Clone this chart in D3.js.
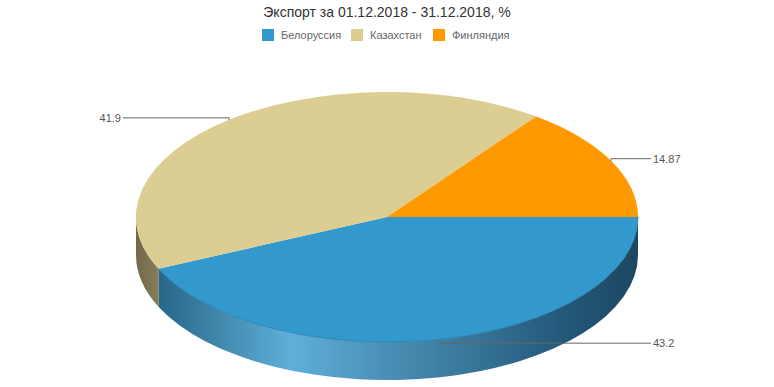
<!DOCTYPE html>
<html><head><meta charset="utf-8">
<script src="https://cdn.jsdelivr.net/npm/d3@7"></script>
<style>body{margin:0;background:#fff}svg{display:block}</style>
</head><body>
<svg id="c" width="774" height="387"></svg>
<script>
const categories = ["Белоруссия", "Казахстан", "Финляндия"];
const values = [43.2, 41.9, 14.87];
const labels = ["43.2", "41.9", "14.87"];
const colors = ["#3399cc", "#dccd92", "#ff9900"];
const title = "Экспорт за 01.12.2018 - 31.12.2018, %";

const svg = d3.select("#c");
const W = 774;
const cx = 387, cy = 217, rx = 251, ry = 125, depth = 38;

svg.append("text").attr("x", W/2).attr("y", 17).attr("text-anchor", "middle")
  .attr("font-family", "Liberation Sans, Arial, sans-serif").attr("font-size", 14).attr("fill", "#333").text(title);

// legend
const legendX = [262, 351, 433];
const lg = svg.append("g");
categories.forEach((c, i) => {
  lg.append("rect").attr("x", legendX[i]).attr("y", 29).attr("width", 12).attr("height", 12).attr("fill", colors[i]);
  lg.append("text").attr("x", legendX[i] + 19).attr("y", 39).attr("font-family", "Liberation Sans, Arial, sans-serif")
    .attr("font-size", 11).attr("fill", "#666").text(c);
});

const defs = svg.append("defs");
function grad(id, stops) {
  const g = defs.append("linearGradient").attr("id", id).attr("gradientUnits", "userSpaceOnUse")
    .attr("x1", cx - rx).attr("x2", cx + rx).attr("y1", 0).attr("y2", 0);
  stops.forEach(s => g.append("stop").attr("offset", s[0]).attr("stop-color", s[1]));
}
grad("g0", [[0, "#1f5a7a"], [0.31, "#5eafd9"], [0.5, "#4a8fb5"], [0.85, "#24597a"], [1, "#1c4760"]]);
grad("g1", [[0, "#736848"], [0.06, "#8e8360"], [0.31, "#b9ac7c"], [1, "#6e6446"]]);
grad("g2", [[0, "#995c00"], [0.31, "#ffb040"], [1, "#995c00"]]);

const pie = d3.pie().sort(null).startAngle(Math.PI/2).endAngle(Math.PI/2 + 2*Math.PI);
const arcs = pie(values);
// screen angle (from +x, clockwise with y down)
const sa = a => a - Math.PI/2;
const pt = (t, dy = 0) => [cx + rx*Math.cos(t), cy + ry*Math.sin(t) + dy];

// sides
arcs.forEach((d, i) => {
  let t0 = sa(d.startAngle), t1 = sa(d.endAngle);
  // visible front: [0, PI]
  const a = Math.max(t0, 0), b = Math.min(t1, Math.PI);
  if (b <= a) return;
  const p0 = pt(a), p1 = pt(b), q1 = pt(b, depth), q0 = pt(a, depth);
  const path = `M${p0}A${rx},${ry} 0 0 1 ${p1}L${q1}A${rx},${ry} 0 0 0 ${q0}Z`;
  svg.append("path").attr("d", path).attr("fill", `url(#g${i})`);
});

// tops
arcs.forEach((d, i) => {
  const t0 = sa(d.startAngle), t1 = sa(d.endAngle);
  const large = (t1 - t0) > Math.PI ? 1 : 0;
  const p0 = pt(t0), p1 = pt(t1);
  svg.append("path").attr("d", `M${cx},${cy}L${p0}A${rx},${ry} 0 ${large} 1 ${p1}Z`)
    .attr("fill", colors[i]);
});
// thin front rim line
svg.append("path").attr("d", `M${pt(0)}A${rx},${ry} 0 0 1 ${pt(sa(arcs[0].endAngle))}`)
  .attr("fill", "none").attr("stroke", "#2b86b8").attr("stroke-width", 1);

// labels
const lineColor = "#666";
arcs.forEach((d, i) => {
  const tm = sa((d.startAngle + d.endAngle)/2);
  const p = pt(tm);
  const right = Math.cos(tm) > 0;
  const down = Math.sin(tm) > 0;
  const ly = p[1] + (down ? 4 : -2);
  const ex = right ? 651 : 123;
  svg.append("path").attr("d", `M${p[0]},${p[1]}L${p[0]},${ly}L${ex},${ly}`)
    .attr("fill", "none").attr("stroke", lineColor).attr("stroke-width", 1);
  svg.append("text").attr("x", right ? ex + 2 : ex - 2).attr("y", ly + 4)
    .attr("text-anchor", right ? "start" : "end")
    .attr("font-family", "Liberation Sans, Arial, sans-serif").attr("font-size", 11).attr("fill", "#555")
    .text(labels[i]);
});
</script>
</body></html>
